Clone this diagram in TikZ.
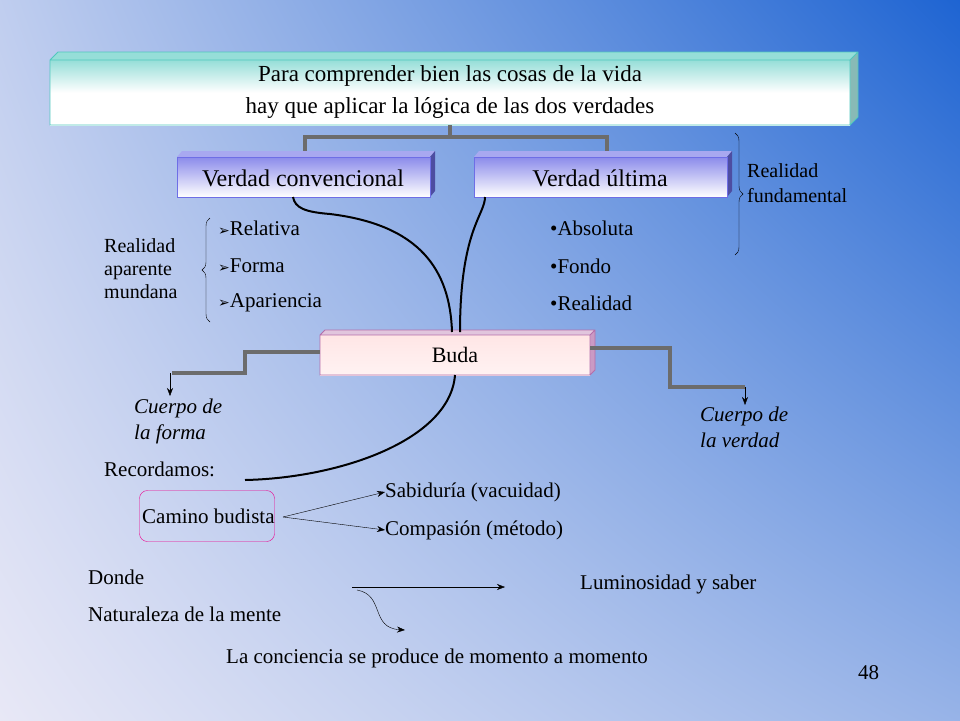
\documentclass[tikz,border=0pt]{standalone}
\usepackage{fontspec}
\setmainfont{Liberation Serif}
\newfontfamily\dvs{DejaVu Sans}
\usetikzlibrary{arrows.meta,decorations.pathreplacing,shadings}
\definecolor{bgA}{RGB}{232,232,246}
\definecolor{bgB}{RGB}{30,100,210}
\definecolor{teal1}{RGB}{80,200,190}
\definecolor{vb}{RGB}{110,110,230}
\definecolor{pk}{RGB}{180,110,170}
\tikzset{
 txt/.style={anchor=west,inner sep=0pt,font=\fontsize{21}{24}\selectfont},
 it/.style={txt,font=\fontsize{21}{26}\selectfont\itshape,align=left,anchor=north west},
 gl/.style={draw=gray!85!black,line width=4pt},
 bl/.style={draw=black,line width=2pt},
 ar/.style={-{Stealth[length=8pt,width=6pt]},thin},
}
\begin{document}
\begin{tikzpicture}[x=1pt,y=-1pt]
\useasboundingbox (0,0) rectangle (960,720);
\shade[lower left=bgA,upper right=bgB,lower right=bgA!60!bgB,upper left=bgA!80!bgB] (0,720) rectangle (960,0);
% top box
\fill[teal1!60] (50,60)--(58,52)--(858,52)--(850,60)--cycle;
\fill[teal1!70!black!60] (850,60)--(858,52)--(858,117)--(850,125)--cycle;
\shade[top color=teal1!60,bottom color=white,middle color=white] (50,60) rectangle (850,125);
\draw[teal1,thick] (50,60) rectangle (850,125) (50,60)--(58,52)--(858,52)--(858,117)--(850,125) (850,60)--(858,52);
\node[align=center,font=\fontsize{23}{32}\selectfont] (top) at (450,92) {Para comprender bien las cosas de la vida\\hay que aplicar la lógica de las dos verdades};
% gray tree
\coordinate (tb) at (450,125);
\draw[gl] (tb)--(450,137) (305,152)--(305,137)--(607,137)--(607,152);
% truth boxes
\foreach \x/\n/\t in {177/vc/Verdad convencional,474/vu/Verdad última}{
 \fill[vb!60] (\x,157)--(\x+5,151)--(\x+258,151)--(\x+253,157)--cycle;
 \fill[vb!70!black] (\x+253,157)--(\x+258,151)--(\x+258,191)--(\x+253,197)--cycle;
 \shade[top color=vb!80,bottom color=white] (\x,157) rectangle (\x+253,197);
 \draw[vb,thick] (\x,157) rectangle (\x+253,197);
 \node[font=\fontsize{24}{28}\selectfont] (\n) at (\x+126,178) {\t};
}
% Buda
\fill[pk!40] (320,335)--(325,330)--(595,330)--(590,335)--cycle;
\fill[pk!70] (590,335)--(595,330)--(595,370)--(590,375)--cycle;
\shade[top color=pink!40!white,bottom color=pink!20!white] (320,335) rectangle (590,375);
\draw[pk,thick] (320,335) rectangle (590,375) (320,335)--(325,330)--(595,330)--(595,370)--(590,375) (590,335)--(595,330);
\node[font=\fontsize{22}{26}\selectfont] (buda) at (455,355) {Buda};
% black curves
\draw[bl] (293,197) .. controls (295,208) and (305,212) .. (330,214) .. controls (420,225) and (450,270) .. (452,332);
\draw[bl] (485,197) .. controls (485,215) and (460,230) .. (460,332);
\draw[bl] (455,375) .. controls (450,440) and (340,478) .. (245,480);
% steps
\draw[gl] (320,352)--(245,352)--(245,373)--(172,373);
\draw[ar] (170,373)--(170,396);
\draw[gl] (590,348)--(670,348)--(670,387)--(745,387);
\draw[ar] (745,387)--(745,405);
% lists
\foreach \y/\t in {228/Relativa,266/Forma,303/Apariencia}{\node[txt] at (218,\y) {{\dvs\fontsize{14}{16}\selectfont ➢}\t};}
\foreach \y/\t in {228/Absoluta,266/Fondo,303/Realidad}{\node[txt] at (550,\y) {•\t};}
\draw[thin,decorate,decoration={brace,amplitude=8pt}] (210,322)--(210,218);
\node[txt,anchor=north west,align=left,font=\fontsize{20}{23}\selectfont] at (104,238) {Realidad\\aparente\\mundana};
\draw[thin,decorate,decoration={brace,amplitude=8pt}] (735,133)--(735,255);
\node[txt,anchor=north west,align=left,font=\fontsize{20}{25}\selectfont] at (747,163) {Realidad\\fundamental};
\node[it] at (134,399) {Cuerpo de\\la forma};
\node[it] at (700,407) {Cuerpo de\\la verdad};
\node[txt] at (104,469) {Recordamos:};
\node[draw=magenta,rounded corners=8pt,minimum width=135pt,minimum height=51pt] (cb) at (207,516) {};
\node[txt] at (142,516) {Camino budista};
\node[txt] (sab) at (385,492) {Sabiduría (vacuidad)};
\node[txt] (com) at (385,530) {Compasión (método)};
\coordinate (cbo) at (283,517);
\draw[ar] (cbo)--(sab.west);
\draw[ar] (cbo)--(com.west);
\node[txt] at (88,577) {Donde};
\node[txt] at (88,614) {Naturaleza de la mente};
\node[txt] (lum) at (580,584) {Luminosidad y saber};
\coordinate (a0) at (352,587);
\coordinate (a1) at (505,587);
\draw[ar] (a0)--(a1);
\coordinate (c0) at (357,590);
\coordinate (c1) at (405,630);
\draw[ar] (c0) .. controls (385,595) and (370,628) .. (c1);
\node[txt] at (226,658) {La conciencia se produce de momento a momento};
\node[txt] at (858,673) {48};
\end{tikzpicture}
\end{document}
